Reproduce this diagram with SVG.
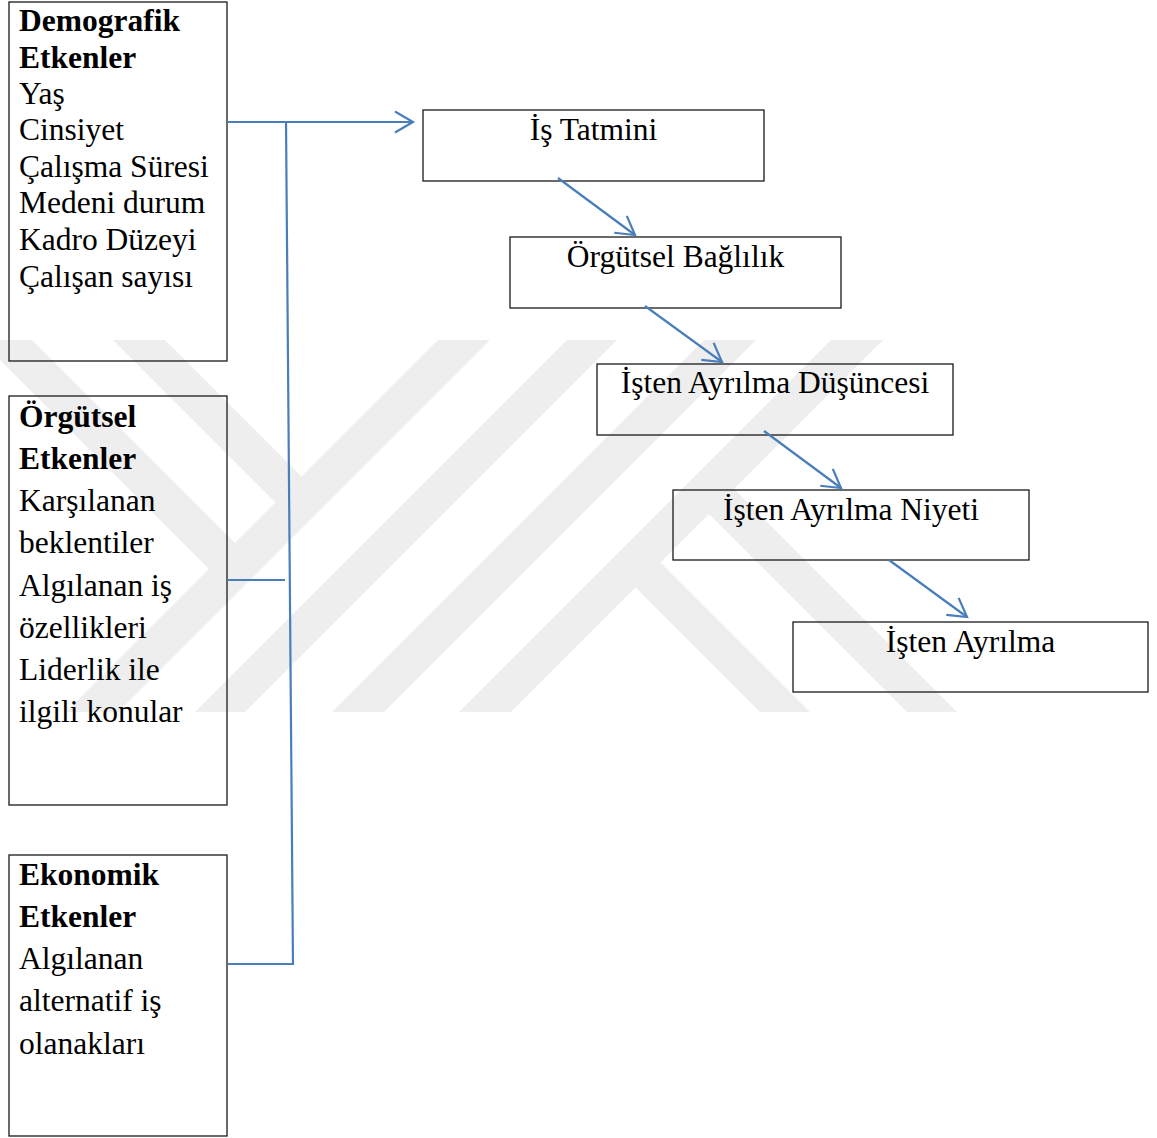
<svg xmlns="http://www.w3.org/2000/svg" width="1157" height="1138" viewBox="0 0 1157 1138">
<style>
.box{fill:none;stroke:#1a1a1a;stroke-width:1.3}
.t{font-family:"Liberation Serif","Times New Roman",serif;font-size:31.5px;fill:#000}
.b{font-weight:bold}
.c{text-anchor:middle}
.ln{fill:none;stroke:#4a7ebb;stroke-width:2.2}
.wm{fill:#eeeeee}
</style>
<defs>
<marker id="arr" markerUnits="userSpaceOnUse" markerWidth="24" markerHeight="26" refX="19" refY="11" orient="auto" overflow="visible">
<path d="M1,0.5 L19,11 L1,21.5" fill="none" stroke="#4a7ebb" stroke-width="2.2"/>
</marker>
</defs>
<rect width="1157" height="1138" fill="#fff"/>
<g id="watermark">
<polygon class="wm" points="438,340 490,340 118,712 66,712"/>
<polygon class="wm" points="567,340 617,340 245,712 195,712"/>
<polygon class="wm" points="704,340 756,340 384,712 332,712"/>
<polygon class="wm" points="831,340 883,340 511,712 459,712"/>
<polygon class="wm" points="-20,340 32,340 248,556 222,582"/>
<polygon class="wm" points="113,340 165,340 314.5,489.5 288.5,515.5"/>
<polygon class="wm" points="760,712 810,712 647.5,549.5 622.5,574.5"/>
<polygon class="wm" points="907,712 957,712 721,476 696,501"/>
</g>
<g id="demografik">
<rect class="box" x="9" y="2" width="218" height="359"/>
<text class="t b" x="19" y="31">Demografik</text>
<text class="t b" x="19" y="68">Etkenler</text>
<text class="t" x="19" y="104">Yaş</text>
<text class="t" x="19" y="140">Cinsiyet</text>
<text class="t" x="19" y="177">Çalışma Süresi</text>
<text class="t" x="19" y="213">Medeni durum</text>
<text class="t" x="19" y="250">Kadro Düzeyi</text>
<text class="t" x="19" y="287">Çalışan sayısı</text>
</g>
<g id="orgutsel">
<rect class="box" x="9" y="396" width="218" height="409"/>
<text class="t b" x="19" y="427">Örgütsel</text>
<text class="t b" x="19" y="469">Etkenler</text>
<text class="t" x="19" y="511">Karşılanan</text>
<text class="t" x="19" y="553">beklentiler</text>
<text class="t" x="19" y="596">Algılanan iş</text>
<text class="t" x="19" y="638">özellikleri</text>
<text class="t" x="19" y="680">Liderlik ile</text>
<text class="t" x="19" y="722">ilgili konular</text>
</g>
<g id="ekonomik">
<rect class="box" x="9" y="855" width="218" height="281"/>
<text class="t b" x="19" y="885">Ekonomik</text>
<text class="t b" x="19" y="927">Etkenler</text>
<text class="t" x="19" y="969">Algılanan</text>
<text class="t" x="19" y="1011">alternatif iş</text>
<text class="t" x="19" y="1054">olanakları</text>
</g>
<g id="is-tatmini">
<rect class="box" x="423" y="110" width="341" height="71"/>
<text class="t c" x="593.5" y="140">İş Tatmini</text>
</g>
<g id="orgutsel-baglilik">
<rect class="box" x="510" y="237" width="331" height="71"/>
<text class="t c" x="675.5" y="267">Örgütsel Bağlılık</text>
</g>
<g id="isten-ayrilma-dusuncesi">
<rect class="box" x="597" y="364" width="356" height="71"/>
<text class="t c" x="775" y="393">İşten Ayrılma Düşüncesi</text>
</g>
<g id="isten-ayrilma-niyeti">
<rect class="box" x="673" y="490" width="356" height="70"/>
<text class="t c" x="851" y="520">İşten Ayrılma Niyeti</text>
</g>
<g id="isten-ayrilma">
<rect class="box" x="793" y="622" width="355" height="70"/>
<text class="t c" x="970.5" y="652">İşten Ayrılma</text>
</g>
<g id="connectors">
<line class="ln" x1="227" y1="122" x2="413" y2="122" marker-end="url(#arr)"/>
<line class="ln" x1="286" y1="121" x2="293" y2="965"/>
<line class="ln" x1="227" y1="580" x2="285" y2="580"/>
<line class="ln" x1="228" y1="964" x2="293" y2="964"/>
<line class="ln" x1="558" y1="178" x2="635" y2="235" marker-end="url(#arr)"/>
<line class="ln" x1="645" y1="306" x2="722" y2="362" marker-end="url(#arr)"/>
<line class="ln" x1="764" y1="431" x2="841" y2="488" marker-end="url(#arr)"/>
<line class="ln" x1="889" y1="560" x2="967" y2="617" marker-end="url(#arr)"/>
</g>
</svg>
